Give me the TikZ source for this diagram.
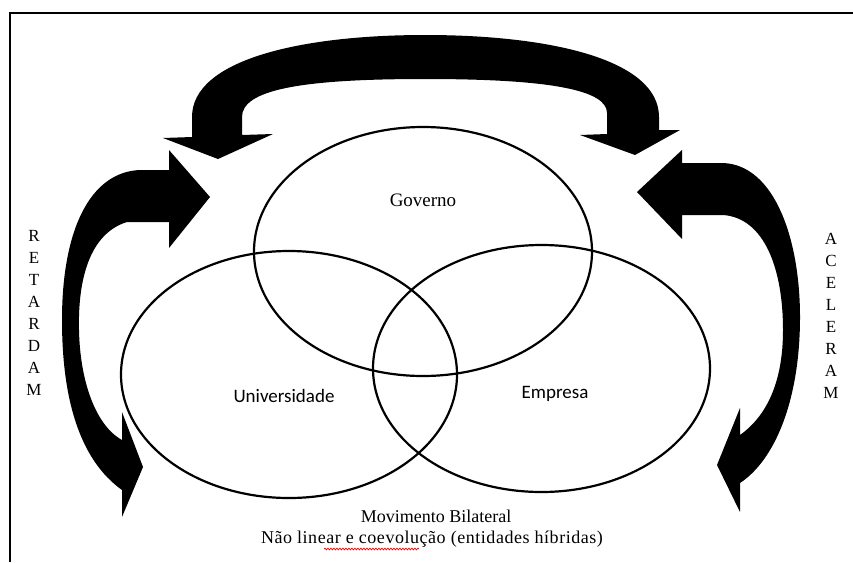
\documentclass[tikz,border=0pt]{standalone}
\usepackage{fontspec}
\setmainfont{Liberation Serif}
\newfontfamily\labelfont{Carlito}
\usetikzlibrary{shapes.geometric,decorations.pathmorphing}
\begin{document}
\begin{tikzpicture}[x=1pt,y=-1pt,
  frameline/.style={line width=2pt, black},
  blockarrow/.style={fill=black},
  vennset/.style={ellipse, draw=black, line width=2.2pt, inner sep=0pt},
  lbl/.style={font=\labelfont\fontsize{19}{22}\selectfont, inner sep=0pt},
  serlbl/.style={font=\fontsize{19}{22}\selectfont, inner sep=0pt},
  caption/.style={font=\fontsize{18}{21}\selectfont, inner sep=0pt},
  vert/.style={font=\fontsize{17}{22}\selectfont, align=center, inner sep=0pt},
  squiggle/.style={red, line width=0.7pt, decorate, decoration={snake, amplitude=0.9pt, segment length=3pt}}]
\useasboundingbox (0,0) rectangle (853,562);
\fill[white] (0,0) rectangle (853,562);
\draw[frameline] (10,562) -- (10,12.5) -- (853,12.5);

% top arch double arrow
\fill[blockarrow] (218,159) -- (163,138) -- (192,137) -- (192,117)
  .. controls (192,60) and (300,35) .. (425,35)
  .. controls (552,35) and (659,60) .. (659,117)
  -- (659,130) -- (680,130) -- (635,155) -- (580,135) -- (607,134) -- (607,113)
  .. controls (607,90) and (550,79) .. (425,79)
  .. controls (300,79) and (242,90) .. (242,117)
  -- (242,135) -- (273,134) -- cycle;

% left curved double arrow
\fill[blockarrow] (210,197) -- (169,248) -- (169,222) -- (127,222)
  .. controls (85,235) and (78,290) .. (79,330)
  .. controls (80,380) and (95,425) .. (122,440)
  -- (122,412) -- (143,467) -- (122,517) -- (122,490)
  .. controls (80,460) and (62,400) .. (62,320)
  .. controls (62,230) and (90,172) .. (140,170)
  -- (169,170) -- (169,150) -- cycle;

% right curved double arrow
\fill[blockarrow] (637,192) -- (682,150) -- (682,163) -- (723,163)
  .. controls (775,165) and (800,240) .. (800,317)
  .. controls (800,400) and (775,460) .. (740,483)
  -- (740,512) -- (717,465) -- (740,408) -- (740,435)
  .. controls (768,415) and (783,380) .. (783,330)
  .. controls (783,270) and (765,218) .. (723,215)
  -- (682,215) -- (682,239) -- cycle;

% Venn ellipses
\node[vennset, minimum width=338pt, minimum height=249pt] (gov) at (423,251.5) {};
\node[vennset, minimum width=336pt, minimum height=247pt] (uni) at (289,374.5) {};
\node[vennset, minimum width=337pt, minimum height=247pt] (emp) at (541.5,368.5) {};

\node[serlbl] (govlabel) at (423,200) {Governo};
\node[lbl] (unilabel) at (284,396) {Universidade};
\node[lbl] (emplabel) at (555,394) {Empresa};

\node[caption] (mov) at (436,516) {Movimento Bilateral};
\node[caption, font=\fontsize{18}{21}\selectfont\addfontfeature{LetterSpace=3}] (nao) at (432,539) {Não linear e coevolução (entidades híbridas)};
\coordinate (sqa) at (324,549);
\coordinate (sqb) at (419,549);
\draw[squiggle] (sqa) -- (sqb);

\node[vert] (ret) at (34,313) {R\\E\\T\\A\\R\\D\\A\\M};
\node[vert] (acel) at (831,316) {A\\C\\E\\L\\E\\R\\A\\M};
\end{tikzpicture}
\end{document}
